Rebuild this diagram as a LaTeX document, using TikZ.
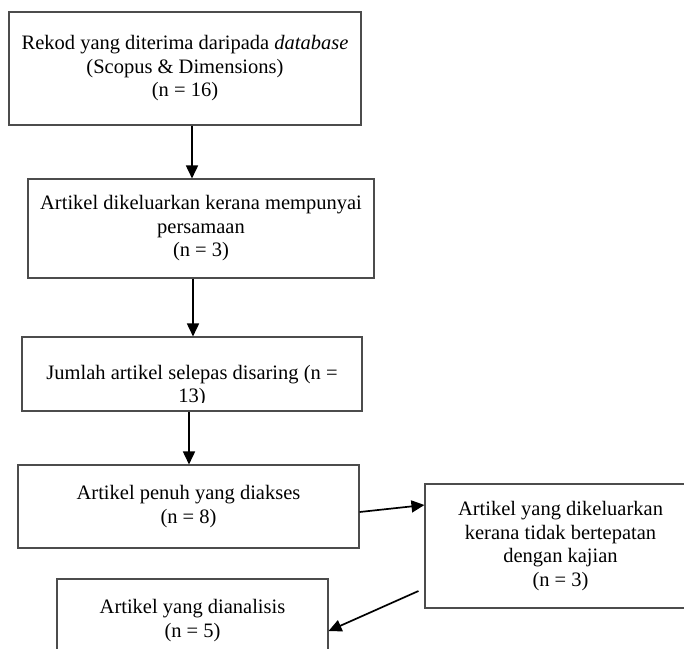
\documentclass[tikz,border=0pt]{standalone}
\usepackage{fontspec}
\setmainfont{Liberation Serif}
\usetikzlibrary{arrows.meta}
\begin{document}
\begin{tikzpicture}[x=1pt,y=-1pt,
  box/.style={draw=black!70,line width=1.1pt,inner sep=0pt,align=center,
    font=\fontsize{20.5}{23.5}\selectfont},
  lbl/.style={inner sep=0pt,align=center,font=\fontsize{20.5}{23.5}\selectfont},
  arr/.style={line width=1.7pt,-{Triangle[length=13pt,width=12pt]}}]
\useasboundingbox (0,0) rectangle (684,648);
\clip (0,0) rectangle (684,648);
\node[box,minimum width=352pt,minimum height=113pt] (b1) at (185,68.5)
  {Rekod yang diterima daripada \textit{database}\\(Scopus \& Dimensions)\\(n = 16)};
\node[box,minimum width=346pt,minimum height=99pt] (b2) at (201,228.5)
  {Artikel dikeluarkan kerana mempunyai\\persamaan\\(n = 3)};
\node[box,minimum width=340pt,minimum height=74pt] (b3) at (192,374) {};
\begin{scope}
  \clip (22,337) rectangle (362,402.5);
  \node[lbl] (t3) at (192,386) {Jumlah artikel selepas disaring (n =\\13)};
\end{scope}
\node[box,minimum width=341pt,minimum height=83pt] (b4) at (188.5,506.5)
  {Artikel penuh yang diakses\\(n = 8)};
\node[box,minimum width=271pt,minimum height=124pt] (b5) at (560.5,546)
  {Artikel yang dikeluarkan\\kerana tidak bertepatan\\dengan kajian\\(n = 3)};
\node[box,minimum width=271pt,minimum height=83pt] (b6) at (192.5,620.5)
  {Artikel yang dianalisis\\(n = 5)};
\coordinate (s5) at ([xshift=-6pt,yshift=-45pt]b5.west);
\draw[arr] ([xshift=7pt]b1.south) -- ([xshift=-9pt]b2.north);
\draw[arr] ([xshift=-8pt]b2.south) -- ([xshift=1pt]b3.north);
\draw[arr] ([xshift=-3pt]b3.south) -- ([xshift=0.5pt]b4.north);
\draw[arr] ([yshift=-5.5pt]b4.east) -- ([yshift=41pt]b5.west);
\draw[arr] (s5) -- ([yshift=-10.5pt]b6.east);
\end{tikzpicture}
\end{document}
